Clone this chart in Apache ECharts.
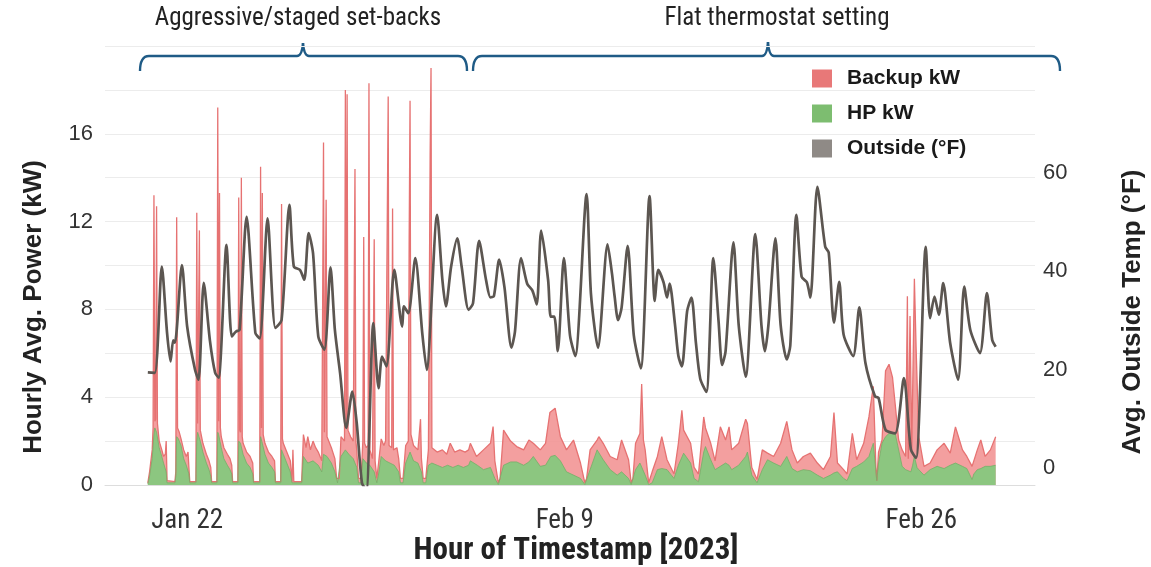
<!DOCTYPE html>
<html>
<head>
<meta charset="utf-8">
<script src="https://cdn.jsdelivr.net/npm/echarts@6/dist/echarts.min.js"></script>
<style>
  html, body { margin: 0; padding: 0; background: #fff; }
  #main { width: 1151px; height: 567px; }
</style>
</head>
<body>
<div id="main"></div>
<script>
// hours since 2023-01-20 00:00, value
const tempPts = [[3,19.5],[11,19.4],[19,41],[25,27.5],[29,21.7],[32,26],[34,25.5],[42,41.3],[48,28.8],[57,20],[61,18],[67,37.7],[74,26],[80,19.4],[84,18.4],[93,45.4],[99,26.8],[104,27.8],[108,28.1],[116,51.1],[126,27.5],[131,26.4],[140,50.8],[149,28.5],[156,30.1],[165,53.5],[170,41],[177,40.3],[182,38.3],[187,47.8],[192,43.7],[198,26.8],[205,24.1],[212,40.8],[217,28.1],[223,19.3],[230,8.2],[237,15.6],[242,9.2],[248,-3],[253,-4.4],[261,29.5],[267,16.3],[271,22.7],[276,20.7],[285,40.3],[294,28.8],[296,32.9],[301,31.5],[309,42.7],[317,27.4],[322,20],[334,51.5],[340,38.3],[344,32.9],[350,41],[357,46.7],[362,41],[370,32.2],[375,33.5],[382,46.2],[390,38.2],[395,34.7],[399,35],[405,42.4],[411,36.8],[419,24.5],[423,27.7],[430,42.7],[437,37.5],[443,36.1],[448,33.3],[453,48.3],[461,38.2],[464,30.8],[468,30.8],[472,23.8],[479,42.7],[486,27],[492,22.8],[505,55.7],[510,35.4],[518,24.5],[529,45.5],[534,39.6],[537,35],[541,30.1],[545,32.6],[552,45.2],[559,27],[567,20.3],[577,55.3],[583,34],[587,40.3],[593,37.8],[597,34.7],[600,37.5],[606,29.4],[610,22.8],[614,20.7],[620,31.9],[625,34.7],[630,25.6],[635,18.2],[642,15.5],[650,42.7],[656,29.8],[660,21],[664,23.8],[673,45.9],[679,29.1],[687,18.6],[698,47.6],[705,29.1],[709,23.8],[713,29.1],[721,46.7],[727,29.1],[734,22.1],[738,24.9],[745,51.5],[751,38.9],[757,37.8],[761,34.7],[769,57.2],[778,45],[782,43.8],[788,29.6],[794,37.9],[799,27.2],[810,22.8],[817,32.7],[824,21.4],[835,14.6],[839,14.3],[847,7.8],[858,7.1],[868,18.3],[876,3.8],[882,2.1],[893,45],[898,30.5],[903,34.9],[908,31.2],[913,37.6],[921,25.4],[930,18],[937,36.9],[944,28.1],[955,23.4],[963,35.6],[969,26.1],[973,24.7]];

const hpPts = [[3,0.05],[5,0.4],[8,1.2],[10,2.3],[11,2.6],[13,2.4],[16,1.7],[19,1.3],[21,1.0],[24,0.6],[25,0.1],[34,0.1],
  [35,0.4],[36,2.2],[38,2.1],[41,1.8],[44,1.2],[47,0.9],[50,0.5],[51,0.1],[58,0.1],
  [59,2.0],[60,2.4],[63,2.0],[66,1.5],[70,1.0],[73,0.7],[75,0.4],[76,0.1],[82,0.1],
  [83,2.4],[84,2.3],[87,1.7],[90,1.2],[94,0.9],[97,0.7],[99,0.5],[100,0.1],[106,0.1],
  [107,2.0],[109,1.9],[112,1.4],[116,1.0],[120,0.8],[123,0.5],[124,0.1],[131,0.1],
  [132,2.2],[134,1.9],[137,1.4],[141,1.0],[145,0.8],[148,0.6],[149,0.1],[155,0.1],
  [156,1.6],[158,1.4],[162,1.0],[166,0.6],[168,0.1],[179,0.1],
  [181,1.3],[186,1.0],[192,1.1],[198,0.9],[202,0.6],[204,1.4],[208,1.3],[213,1.0],[217,0.6],[220,0.1],[222,0.1],[224,1.3],[229,1.6],[233,1.4],[238,1.2],[242,0.8],[244,0.1],[247,0.1],[249,1.2],[253,1.0],[257,0.9],[262,0.6],[265,0.1],[267,0.5],[270,1.3],[275,1.1],[280,1.0],[285,0.9],[290,0.6],[292,0.1],[295,0.1],[298,1.0],[303,1.5],[307,1.1],[312,1.0],[316,0.6],[318,0.1],[321,0.1],[324,0.9],[328,1.0],[334,0.9],[340,0.8],[346,0.9],[352,0.8],[358,0.9],[364,0.8],[370,0.9],
  [372,1.1],[380,0.9],[387,0.7],[395,0.8],[400,0.3],[404,0.02],[406,0.1],[410,0.9],[418,1.05],[425,1.05],[433,0.9],[439,1.05],[444,1.3],[452,0.85],[458,0.9],[464,1.3],[469,1.35],[475,1.1],[482,0.6],[490,0.45],[498,0.3],[503,0.02],[505,0.1],[509,0.7],[517,1.6],[524,1.15],[532,0.7],[540,0.45],[545,0.6],[553,0.3],[556,0.02],[558,0.1],[561,0.7],[566,1.0],[572,0.45],[576,0.02],[580,0.1],[586,0.7],[591,0.75],[597,0.7],[605,0.3],[610,0.9],[616,1.45],[624,1.0],[628,0.3],[633,0.15],[639,1.5],[641,1.75],[647,1.15],[652,0.7],[658,0.85],[664,1.0],[668,0.9],[671,0.7],[679,0.9],[687,1.3],[689,1.5],[694,0.45],[700,0.1],[706,0.7],[712,1.15],[719,1.0],[727,0.85],[734,1.3],[740,0.75],[746,0.6],[753,0.7],[761,0.65],[769,0.45],[776,0.3],[784,0.45],[788,0.55],[792,0.6],[799,0.3],[803,0.2],[809,0.75],[814,0.85],[822,1.05],[828,1.3],[833,1.9],[836,0.6],[837,0.2],[839,1.0],[843,1.9],[847,2.2],[851,2.35],[858,2.35],[862,1.6],[866,0.85],[870,0.7],[876,0.6],[878,0.9],[880,1.3],[883,0.8],[885,0.7],[891,0.45],[898,0.7],[906,0.85],[914,0.75],[921,0.9],[927,1.0],[935,0.85],[940,0.75],[946,0.25],[948,0.5],[952,0.7],[956,0.75],[961,0.85],[967,0.85],[973,0.9]];

const backupPts = [[3,0.1],[5,0.6],[8,1.6],[9,2.6],[10,13.2],[11,2.9],[12,3.0],[13,12.7],[14,2.8],[16,2.0],[19,1.6],[21,1.3],[23,1.4],[24,2.0],[25,0.2],[34,0.15],
  [35,0.6],[36,12.2],[37,2.6],[39,2.4],[41,2.1],[44,1.6],[47,1.3],[49,1.5],[50,0.8],[51,0.15],[58,0.15],
  [59,12.4],[60,2.8],[61,2.8],[62,11.6],[63,2.5],[66,1.9],[70,1.4],[73,1.1],[75,0.8],[76,0.15],[82,0.15],
  [83,17.2],[84,2.9],[85,13.3],[86,2.6],[87,2.2],[90,1.7],[94,1.4],[97,1.2],[99,0.9],[100,0.15],[106,0.15],
  [107,13.1],[108,2.5],[109,2.4],[110,14.0],[111,2.2],[112,1.9],[116,1.5],[120,1.3],[123,1.0],[124,0.15],[131,0.15],
  [132,14.5],[133,2.6],[134,13.3],[135,2.3],[137,1.9],[141,1.5],[145,1.3],[148,1.1],[149,0.15],[155,0.15],
  [156,12.8],[157,2.1],[158,1.9],[162,1.5],[166,1.1],[168,0.15],[169,1.6],[170,0.15],[179,0.15],
  [181,2.3],[184,1.7],[186,2.2],[189,1.6],[192,2.0],[195,1.7],[198,1.5],[202,1.1],[204,15.6],[205,2.4],[207,13.0],[208,2.2],[213,1.7],[217,1.2],[219,0.3],[222,0.3],[224,2.2],[228,2.0],[229,18.0],[230,2.6],[231,17.8],[232,2.5],[235,2.2],[238,2.0],[240,14.4],[241,2.0],[242,1.6],[244,0.3],[247,0.3],[249,2.0],[250,11.3],[251,1.9],[253,1.7],[255,1.8],[256,18.3],[257,1.6],[260,1.2],[262,11.2],[263,1.1],[265,0.3],[267,1.0],[270,2.1],[273,1.8],[275,2.0],[278,17.7],[279,1.8],[282,1.7],[283,12.6],[284,1.6],[288,1.7],[290,1.2],[292,0.3],[295,0.3],[298,1.8],[301,2.0],[302,11.3],[303,17.5],[304,2.3],[307,1.8],[312,1.6],[315,3.0],[316,1.2],[318,0.3],[321,0.3],[324,1.6],[326,15.1],[327,19.0],[328,1.7],[334,1.5],[340,1.6],[345,1.4],[349,1.9],[354,1.5],[360,1.6],[366,1.5],[370,1.6],
  [372,1.9],[379,1.3],[387,1.6],[395,1.9],[398,2.66],[400,1.1],[404,0.1],[406,0.3],[410,2.5],[418,2.0],[425,1.75],[433,1.6],[439,2.05],[444,1.9],[452,1.6],[458,1.9],[463,3.3],[469,3.5],[475,2.2],[482,1.6],[490,2.05],[498,1.0],[503,0.1],[505,0.3],[509,1.6],[517,2.05],[519,2.2],[524,1.9],[532,1.3],[540,1.15],[545,2.05],[553,1.15],[556,0.1],[558,0.3],[561,1.9],[566,2.35],[568,4.6],[570,2.05],[572,1.6],[576,0.1],[580,0.6],[586,1.3],[591,2.2],[597,1.15],[605,0.5],[610,1.9],[614,3.4],[616,2.5],[624,1.9],[628,0.8],[633,0.5],[639,3.1],[641,2.6],[647,1.9],[652,1.1],[658,2.65],[664,2.05],[668,2.65],[671,1.6],[679,1.9],[687,3.0],[689,2.8],[694,0.8],[700,0.25],[706,1.6],[712,1.45],[719,1.3],[727,1.9],[734,2.9],[740,1.6],[746,1.0],[753,1.3],[761,1.45],[769,1.0],[776,0.7],[784,1.3],[788,3.3],[792,1.0],[799,0.7],[803,0.5],[809,2.35],[814,1.15],[822,1.9],[828,3.1],[833,4.5],[836,0.8],[837,0.2],[839,1.5],[843,2.05],[847,5.2],[851,5.5],[855,4.9],[858,3.7],[862,2.05],[866,1.6],[870,1.3],[872,8.6],[873,1.2],[875,7.7],[877,1.6],[880,9.4],[882,6.2],[885,2.2],[891,0.85],[898,1.0],[906,1.6],[914,1.9],[921,1.45],[927,2.65],[935,1.6],[940,1.3],[946,0.85],[952,1.6],[956,2.05],[961,1.3],[967,1.6],[973,2.2]];

// x tick labels: hours since 2023-01-20 00:00 -> label
const xTickHours = [48, 480, 888];
const xTickLabels = ['Jan 22', 'Feb 9', 'Feb 26'];
const tempTicks = [0, 20, 40, 60];

const narrow = "'Liberation Sans Narrow', 'Roboto Condensed', 'Liberation Sans', sans-serif";
const sans = "'Liberation Sans', Arial, sans-serif";
const braceColor = '#1f5b86';

// curly bracket drawn from lines + quadratic curves
function bracket(x0, x1, xm, yLine, yEnd, yTip) {
  const st = { stroke: braceColor, lineWidth: 2.4, fill: 'none' };
  const r = 9;
  return [
    { type: 'bezierCurve', shape: { x1: x0, y1: yEnd, x2: x0 + r, y2: yLine, cpx1: x0, cpy1: yLine }, style: st },
    { type: 'line', shape: { x1: x0 + r, y1: yLine, x2: xm - 6, y2: yLine }, style: st },
    { type: 'bezierCurve', shape: { x1: xm - 6, y1: yLine, x2: xm, y2: yTip, cpx1: xm - 1, cpy1: yLine }, style: st },
    { type: 'bezierCurve', shape: { x1: xm, y1: yTip, x2: xm + 6, y2: yLine, cpx1: xm + 1, cpy1: yLine }, style: st },
    { type: 'line', shape: { x1: xm + 6, y1: yLine, x2: x1 - r, y2: yLine }, style: st },
    { type: 'bezierCurve', shape: { x1: x1 - r, y1: yLine, x2: x1, y2: yEnd, cpx1: x1, cpy1: yLine }, style: st }
  ];
}

const chart = echarts.init(document.getElementById('main'));

chart.setOption({
  animation: false,
  backgroundColor: '#fff',
  grid: { left: 105, right: 116, top: 46, bottom: 82 },
  legend: {
    left: 807,
    top: 63,
    orient: 'vertical',
    icon: 'rect',
    itemWidth: 20,
    itemHeight: 18,
    itemGap: 14,
    textStyle: { fontFamily: sans, fontWeight: 'bold', fontSize: 21, color: '#1a1a1a', padding: [0, 0, 0, 10] },
    data: [
      { name: 'Backup kW', itemStyle: { color: '#e87878' } },
      { name: 'HP kW', itemStyle: { color: '#7dbd70' } },
      { name: 'Outside (°F)', itemStyle: { color: '#8f8a86' } }
    ]
  },
  xAxis: {
    type: 'value',
    min: -46,
    max: 1018,
    axisLine: { show: true, lineStyle: { color: '#dddddd' } },
    axisTick: { show: false },
    splitLine: { show: false },
    axisLabel: {
      customValues: xTickHours,
      margin: 23,
      fontFamily: narrow,
      fontSize: 27,
      color: '#333',
      formatter: v => {
        const i = xTickHours.indexOf(v);
        return i >= 0 ? xTickLabels[i] : '';
      }
    }
  },
  yAxis: [
    {
      type: 'value',
      min: 0,
      max: 20,
      interval: 2,
      axisLine: { show: false },
      axisTick: { show: false },
      splitLine: { lineStyle: { color: '#ececec', width: 1 } },
      axisLabel: {
        margin: 12,
        fontFamily: sans,
        fontSize: 22,
        color: '#333',
        formatter: v => (v % 4 === 0 && v < 20) ? String(v) : ''
      }
    },
    {
      type: 'value',
      min: -3.4,
      max: 85.8,
      position: 'right',
      axisLine: { show: false },
      axisTick: { show: false },
      splitLine: { show: false },
      axisLabel: {
        customValues: tempTicks,
        margin: 8,
        fontFamily: sans,
        fontSize: 22,
        color: '#333'
      }
    }
  ],
  series: [
    {
      name: 'Backup kW',
      type: 'line',
      data: backupPts,
      symbol: 'none',
      itemStyle: { color: '#e87878' },
      lineStyle: { width: 1.3, color: '#e67272' },
      areaStyle: { color: '#f29595', opacity: 0.9 }
    },
    {
      name: 'HP kW',
      type: 'line',
      data: hpPts,
      symbol: 'none',
      itemStyle: { color: '#7dbd70' },
      lineStyle: { width: 0.8, color: '#74b067' },
      areaStyle: { color: '#8cc680', opacity: 1 }
    },
    {
      name: 'Outside (°F)',
      type: 'line',
      yAxisIndex: 1,
      data: tempPts,
      symbol: 'none',
      smooth: 0.25,
      itemStyle: { color: '#8f8a86' },
      lineStyle: { width: 2.7, color: '#5c5651' }
    }
  ],
  graphic: [
    ...bracket(140, 467, 303, 56, 71, 43),
    ...bracket(473, 1060, 768, 56, 71, 42),
    {
      type: 'text',
      style: { x: 298, y: 19, text: 'Aggressive/staged set-backs', align: 'center', verticalAlign: 'middle', font: '25px ' + narrow, fill: '#222' }
    },
    {
      type: 'text',
      style: { x: 777, y: 19, text: 'Flat thermostat setting', align: 'center', verticalAlign: 'middle', font: '25px ' + narrow, fill: '#222' }
    },
    {
      type: 'text',
      x: 34, y: 307, rotation: Math.PI / 2,
      style: { x: 0, y: 0, text: 'Hourly Avg. Power (kW)', align: 'center', verticalAlign: 'middle', font: 'bold 26px ' + sans, fill: '#222' }
    },
    {
      type: 'text',
      x: 1133, y: 312, rotation: Math.PI / 2,
      style: { x: 0, y: 0, text: 'Avg. Outside Temp (°F)', align: 'center', verticalAlign: 'middle', font: 'bold 26px ' + sans, fill: '#222' }
    },
    {
      type: 'text',
      style: { x: 576, y: 551, text: 'Hour of Timestamp [2023]', align: 'center', verticalAlign: 'middle', font: 'bold 31px ' + narrow, fill: '#222' }
    }
  ]
});
</script>
</body>
</html>
